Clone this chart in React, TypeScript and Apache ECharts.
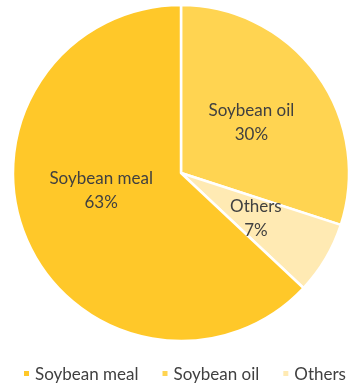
import React, { useEffect, useRef } from "react";
import * as echarts from "echarts";

const categories = ["Soybean meal", "Soybean oil", "Others"];
const values = [63, 30, 7];
const colors = ["#FFC829", "#FFD451", "#FFEAB3"];
// drawing order, clockwise from 12 o'clock
const drawOrder = [1, 2, 0];

export default function App() {
  const ref = useRef<HTMLDivElement>(null);
  useEffect(() => {
    const chart = echarts.init(ref.current!, null, { renderer: "svg" });
    const font = "Lato, 'Open Sans', sans-serif";
    chart.setOption({
      animation: false,
      legend: {
        data: categories.map((c, i) => ({ name: c, itemStyle: { color: colors[i] } })),
        left: 22,
        top: 365,
        width: 340,
        padding: 0,
        icon: "rect",
        itemWidth: 7,
        itemHeight: 7,
        itemGap: 22,
        textStyle: { color: "#404040", fontSize: 17, fontFamily: font },
      },
      series: [
        {
          type: "pie",
          center: [181, 173],
          radius: [0, 168],
          startAngle: 90,
          clockwise: true,
          itemStyle: { borderColor: "#ffffff", borderWidth: 2.5 },
          label: {
            show: true,
            position: "inside",
            formatter: "{b}\n{d}%",
            color: "#404040",
            fontSize: 17,
            fontFamily: font,
            lineHeight: 24,
          },
          labelLine: { show: false },
          emphasis: { disabled: true },
          data: drawOrder.map((i) => ({
            name: categories[i],
            value: values[i],
            itemStyle: { color: colors[i] },
            label: i === 0 ? { offset: [0, -18] } : undefined,
          })),
        },
      ],
    });
    return () => chart.dispose();
  }, []);
  return (
    <div
      ref={ref}
      style={{ position: "fixed", left: 0, top: 0, width: 354, height: 385 }}
    />
  );
}
